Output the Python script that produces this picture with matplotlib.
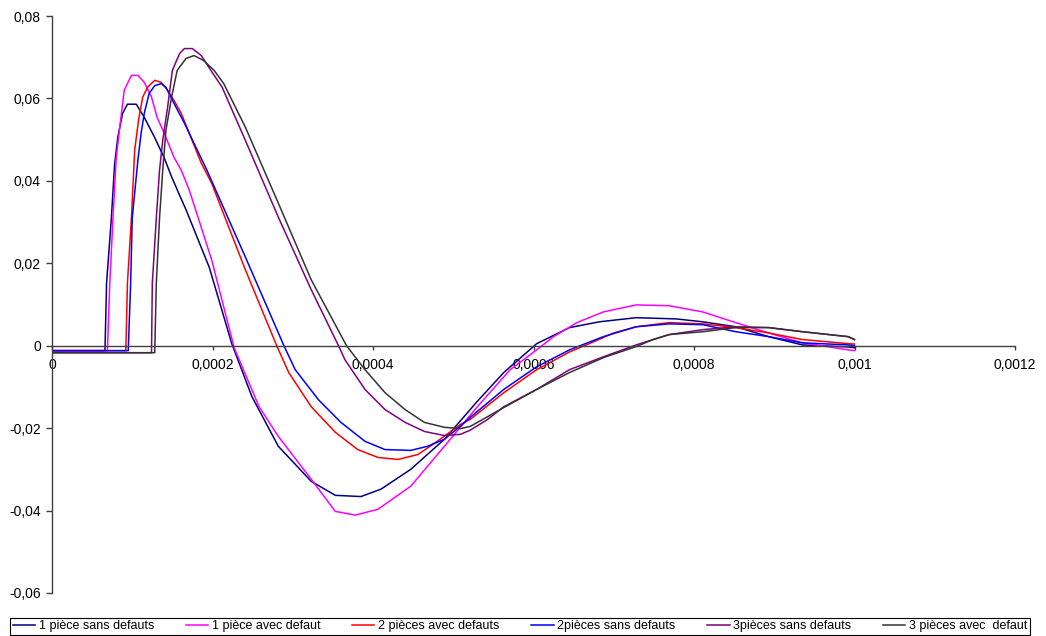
import matplotlib
matplotlib.use('Agg')
import matplotlib.pyplot as plt
from matplotlib.ticker import FuncFormatter, MultipleLocator
import numpy as np

plt.rcParams['font.family'] = ['Liberation Sans', 'DejaVu Sans']

# time axis, in microseconds
t1_us = [0, 66, 68, 74, 78, 82, 88, 94, 105, 115, 128, 140, 149, 159, 167, 196, 224, 249, 282,
         323, 353, 385, 410, 447, 489, 530, 563, 604, 645, 682, 728, 778, 811, 852, 893, 935,
         992, 1000]
y1 = [-0.0012, -0.0012, 0.0152, 0.031, 0.044, 0.0506, 0.0564, 0.0586, 0.0586, 0.0554,
      0.0505, 0.0455, 0.041, 0.0365, 0.033, 0.019, 0.0005, -0.0123, -0.0244, -0.0329,
      -0.0363, -0.0366, -0.0348, -0.030, -0.0227, -0.0135, -0.0065, 0.0005, 0.0044, 0.0058,
      0.0068, 0.0065, 0.0058, 0.0046, 0.0022, 0.0002, -0.0003, -0.0005]

t2_us = [0, 69, 72, 76, 80, 84, 90, 99, 107, 115, 124, 131, 140, 152, 161, 171, 199, 227, 258,
         282, 323, 353, 378, 406, 447, 489, 530, 571, 604, 625, 654, 687, 728, 769, 811, 852,
         893, 935, 992, 1000]
y2 = [-0.0012, -0.0012, 0.0152, 0.031, 0.0455, 0.0523, 0.062, 0.0656, 0.0656, 0.0639,
      0.0603, 0.0554, 0.0515, 0.0457, 0.0426, 0.0378, 0.0208, -0.0005, -0.0148, -0.022,
      -0.0324, -0.0402, -0.0411, -0.0397, -0.0341, -0.0244, -0.0148, -0.0058, -0.001, 0.0022,
      0.0056, 0.0082, 0.0099, 0.0097, 0.0082, 0.0056, 0.0031, 0.0007, -0.001, -0.0012]

t3_us = [0, 92, 94, 99, 103, 108, 113, 119, 128, 136, 144, 152, 161, 173, 186, 199, 241, 280,
         295, 323, 353, 381, 406, 431, 456, 480, 509, 521, 563, 604, 645, 666, 700, 728, 769,
         811, 852, 893, 935, 992, 1000]
y3 = [-0.0012, -0.0012, 0.0152, 0.031, 0.0474, 0.055, 0.0603, 0.0627, 0.0644, 0.0639,
      0.062, 0.0595, 0.0564, 0.0506, 0.0443, 0.0394, 0.0184, 0.0, -0.0065, -0.0148, -0.021,
      -0.0252, -0.0271, -0.0276, -0.0264, -0.0232, -0.0191, -0.0179, -0.0114, -0.0058,
      -0.0015, 0.0002, 0.0031, 0.0046, 0.0056, 0.0053, 0.0044, 0.0031, 0.0015, 0.0005, 0.0004]

t4_us = [0, 95, 98, 100, 107, 111, 115, 121, 128, 136, 142, 152, 165, 177, 193, 241, 289, 303,
         332, 360, 390, 415, 447, 468, 489, 509, 521, 563, 604, 645, 687, 728, 769, 811, 852,
         893, 935, 992, 1000]
y4 = [-0.0012, -0.0012, 0.0152, 0.031, 0.045, 0.0515, 0.0564, 0.0612, 0.0631, 0.0636,
      0.0627, 0.0588, 0.054, 0.0491, 0.0426, 0.0215, 0.0, -0.0058, -0.0131, -0.0186, -0.0232,
      -0.0252, -0.0254, -0.0244, -0.0227, -0.0195, -0.0174, -0.0106, -0.0051, -0.001, 0.0022,
      0.0046, 0.0053, 0.0051, 0.0034, 0.0022, 0.0007, 0.0002, 0.0]

t5_us = [0, 124, 125, 130, 134, 138, 144, 150, 159, 165, 175, 186, 198, 212, 241, 282, 323,
         357, 365, 390, 415, 440, 464, 489, 509, 521, 542, 563, 604, 645, 687, 728, 769, 811,
         852, 893, 935, 992, 1000]
y5 = [-0.0017, -0.0017, 0.0152, 0.031, 0.0426, 0.0498, 0.0578, 0.0668, 0.0709, 0.0721,
      0.0721, 0.0704, 0.0668, 0.0627, 0.0498, 0.0312, 0.0136, 0.0, -0.0034, -0.0106, -0.0155,
      -0.0186, -0.0208, -0.0218, -0.0215, -0.0205, -0.018, -0.0148, -0.0106, -0.0058,
      -0.0027, 0.0002, 0.0027, 0.0039, 0.0046, 0.0044, 0.0034, 0.0022, 0.0015]

t6_us = [0, 128, 130, 134, 138, 142, 149, 156, 167, 177, 189, 202, 214, 241, 282, 323, 367,
         390, 415, 440, 464, 489, 509, 521, 563, 604, 645, 687, 728, 749, 769, 811, 852, 893,
         935, 992, 1000]
y6 = [-0.0017, -0.0017, 0.0152, 0.031, 0.0426, 0.0523, 0.0603, 0.0668, 0.0697, 0.0704,
      0.0692, 0.0668, 0.0636, 0.053, 0.0346, 0.016, 0.0, -0.0058, -0.0114, -0.0155, -0.0186,
      -0.0198, -0.0201, -0.0196, -0.015, -0.0106, -0.0065, -0.0029, -0.0002, 0.0015, 0.0027,
      0.0034, 0.0044, 0.0044, 0.0034, 0.0022, 0.0015]

labels = ['1 pièce sans defauts', '1 pièce avec defaut', '2 pièces avec defauts',
          '2pièces sans defauts', '3pièces sans defauts', '3 pièces avec  defaut']
colors = ['#000080', '#FF00FF', '#FF0000', '#0000FF', '#800080', '#333333']

series = [(t1_us, y1), (t2_us, y2), (t3_us, y3), (t4_us, y4), (t5_us, y5), (t6_us, y6)]


def comma(v, pos):
    if abs(v) < 1e-12:
        return '0'
    return f'{v:g}'.replace('.', ',')


def comma_y(v, pos):
    if abs(v) < 1e-12:
        return '0'
    return f'{v:.2f}'.replace('.', ',')


fig = plt.figure(figsize=(10.46, 6.36), dpi=100)
ax = fig.add_axes([52 / 1046, 43 / 636, 963 / 1046, 577 / 636])

handles = []
for (t, y), lab, col in zip(series, labels, colors):
    line, = ax.plot(np.array(t) * 1e-6, y, color=col, lw=1.1, label=lab)
    handles.append(line)

ax.set_xlim(0, 0.0012)
ax.set_ylim(-0.06, 0.08)
ax.xaxis.set_major_locator(MultipleLocator(0.0002))
ax.yaxis.set_major_locator(MultipleLocator(0.02))
ax.xaxis.set_major_formatter(FuncFormatter(comma))
ax.yaxis.set_major_formatter(FuncFormatter(comma_y))

# axes like the spreadsheet: x axis sitting on y = 0
ax.spines['top'].set_visible(False)
ax.spines['right'].set_visible(False)
ax.spines['bottom'].set_position(('data', 0))
for s in ('left', 'bottom'):
    ax.spines[s].set_color('#404040')
    ax.spines[s].set_linewidth(1.0)

ax.tick_params(axis='y', direction='out', length=4, width=1, color='#404040',
               labelsize=10, pad=4)
ax.tick_params(axis='x', direction='out', length=3, width=1, color='#404040',
               labelsize=10, pad=6)

# legend box across the whole bottom edge
leg = fig.legend(handles=handles, loc='lower left',
                 bbox_to_anchor=(10 / 1046, 1 / 636, 1020 / 1046, 19 / 636),
                 mode='expand', ncol=6, fontsize=9, frameon=True, fancybox=False,
                 framealpha=1, edgecolor='black', handlelength=1.8, handletextpad=0.3,
                 columnspacing=0.8, borderpad=0.2, borderaxespad=0)
leg.get_frame().set_linewidth(0.8)

fig.savefig('out.png', dpi=100)
